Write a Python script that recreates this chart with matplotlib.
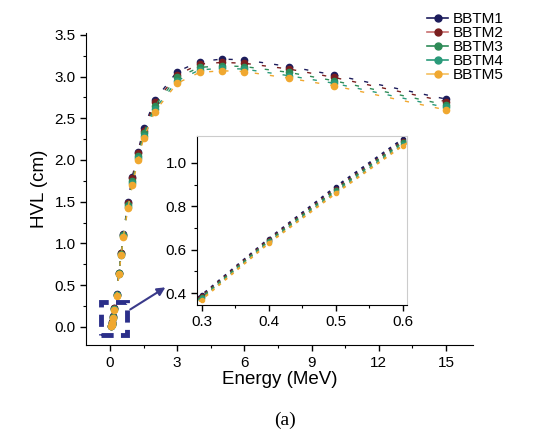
import matplotlib
matplotlib.use("Agg")
import matplotlib.pyplot as plt
from matplotlib.lines import Line2D
from matplotlib.patches import Rectangle

plt.rcParams['font.family'] = ['Liberation Sans', 'DejaVu Sans']

energy = [0.05, 0.08, 0.1, 0.15, 0.2, 0.3, 0.4, 0.5, 0.6, 0.8, 1.0, 1.25, 1.5, 2, 3, 4, 5, 6, 8, 10, 15]
series_names = ['BBTM1', 'BBTM2', 'BBTM3', 'BBTM4', 'BBTM5']
bbtm1 = [0.01, 0.03, 0.06, 0.13, 0.22, 0.39, 0.65, 0.89, 1.11, 1.50, 1.80, 2.10, 2.38, 2.72, 3.06, 3.18, 3.21, 3.20, 3.12, 3.02, 2.73]
bbtm2 = [0.01, 0.03, 0.06, 0.12, 0.22, 0.385, 0.645, 0.88, 1.10, 1.48, 1.78, 2.08, 2.35, 2.69, 3.02, 3.15, 3.17, 3.16, 3.09, 2.99, 2.70]
bbtm3 = [0.01, 0.03, 0.05, 0.12, 0.21, 0.38, 0.64, 0.875, 1.095, 1.46, 1.75, 2.05, 2.32, 2.65, 2.99, 3.11, 3.13, 3.12, 3.05, 2.95, 2.66]
bbtm4 = [0.01, 0.02, 0.05, 0.11, 0.21, 0.375, 0.635, 0.865, 1.085, 1.44, 1.72, 2.02, 2.29, 2.61, 2.95, 3.08, 3.10, 3.09, 3.01, 2.92, 2.63]
bbtm5 = [0.01, 0.02, 0.05, 0.11, 0.20, 0.37, 0.63, 0.86, 1.08, 1.42, 1.70, 2.00, 2.26, 2.58, 2.92, 3.05, 3.07, 3.06, 2.98, 2.89, 2.60]
all_series = [bbtm1, bbtm2, bbtm3, bbtm4, bbtm5]
colors = ['#1c1c5c', '#7a1f1f', '#2e8b57', '#2a9a7a', '#f0a830']
legend_line_colors = ['#1c1c5c', '#c87070', '#2e8b57', '#2a9a7a', '#f5c060']

xticks = [0, 3, 6, 9, 12, 15]
yticks = [0.0, 0.5, 1.0, 1.5, 2.0, 2.5, 3.0, 3.5]
inset_xticks = [0.3, 0.4, 0.5, 0.6]
inset_yticks = [0.4, 0.6, 0.8, 1.0]

fig = plt.figure(figsize=(5.41, 4.43), dpi=100)
ax = fig.add_axes([0.159, 0.221, 0.715, 0.704])

for vals, c in zip(all_series, colors):
    ax.plot(energy, vals, color=c, lw=1.0, dashes=(3, 8),
            marker='o', markersize=4.5, markerfacecolor=c, markeredgecolor=c)

ax.set_xlim(-1.07, 16.2)
ax.set_ylim(-0.22, 3.52)
ax.set_xticks(xticks)
ax.set_yticks(yticks)
ax.set_xticklabels([str(t) for t in xticks])
ax.set_yticklabels([f'{t:.1f}' for t in yticks])
ax.set_xticks([1.5, 4.5, 7.5, 10.5, 13.5], minor=True)
ax.set_yticks([0.25, 0.75, 1.25, 1.75, 2.25, 2.75, 3.25], minor=True)
ax.tick_params(which='major', direction='out', length=4, width=1, labelsize=11)
ax.tick_params(which='minor', direction='out', length=2, width=0.8)
for s in ['top', 'right']:
    ax.spines[s].set_visible(False)
ax.set_xlabel('Energy (MeV)', fontsize=13.5, labelpad=1)
ax.set_ylabel('HVL (cm)', fontsize=13.5, labelpad=5)

# dashed highlight box and arrow
ax.add_patch(Rectangle((-0.4, -0.10), 1.16, 0.40, fill=False, edgecolor='#2b2f8a',
                       lw=3.5, linestyle=(0, (2.5, 1.5)), zorder=5))
ax.annotate('', xy=(2.58, 0.49), xytext=(0.8, 0.19),
            arrowprops=dict(arrowstyle='-|>', color='#3a3a8a', lw=1.5, mutation_scale=12))

# inset
axi = fig.add_axes([0.364, 0.3115, 0.388, 0.3815])
for vals, c in zip(all_series, colors):
    axi.plot(energy, vals, color=c, lw=1.5, dashes=(1.5, 2.5),
             marker='o', markersize=3, markerfacecolor=c, markeredgecolor=c)
axi.set_xlim(0.293, 0.606)
axi.set_ylim(0.345, 1.124)
axi.set_xticks(inset_xticks)
axi.set_yticks(inset_yticks)
axi.set_xticklabels([f'{t:.1f}' for t in inset_xticks])
axi.set_yticklabels([f'{t:.1f}' for t in inset_yticks])
axi.set_xticks([0.35, 0.45, 0.55], minor=True)
axi.set_yticks([0.5, 0.7, 0.9], minor=True)
axi.tick_params(which='major', direction='out', length=4, width=1, labelsize=11)
axi.tick_params(which='minor', direction='out', length=2, width=0.8)
for s in ['top', 'right']:
    axi.spines[s].set_color('#cccccc')

# legend
handles = [Line2D([0], [0], color=lc, lw=1.2, marker='o', markersize=5,
                  markerfacecolor=c, markeredgecolor=c)
           for c, lc in zip(colors, legend_line_colors)]
fig.legend(handles, series_names, loc='upper left', bbox_to_anchor=(0.775, 0.99),
           frameon=False, fontsize=11, handlelength=1.4, handletextpad=0.3,
           labelspacing=0.0, borderpad=0)

fig.text(0.527, 0.052, '(a)', fontsize=14, family=['Liberation Serif', 'DejaVu Serif'],
         ha='center', va='center')

fig.savefig('out.png', dpi=100)
